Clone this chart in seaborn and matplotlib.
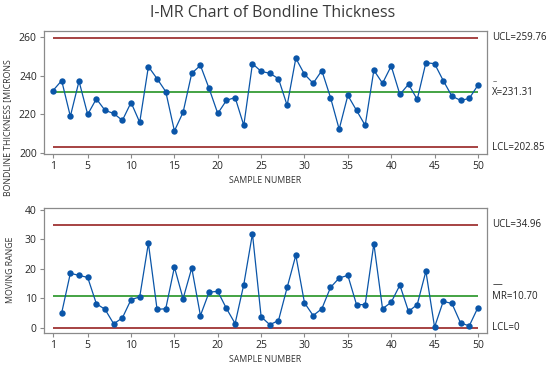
import numpy as np
import pandas as pd
import matplotlib
matplotlib.use("Agg")
import matplotlib.pyplot as plt
import seaborn as sns

# values
samples = list(range(1, 51))
thickness = [232.3, 237.5, 218.9, 237.2, 219.9, 228.0, 222.0, 220.4, 216.8, 226.1,
             215.8, 244.8, 238.5, 231.8, 211.3, 221.0, 241.3, 245.4, 233.4, 220.4,
             227.2, 228.7, 214.2, 246.3, 242.3, 241.3, 238.5, 224.6, 249.1, 240.8,
             236.1, 242.7, 228.7, 212.2, 229.8, 222.0, 214.2, 242.9, 236.1, 245.1,
             230.3, 235.6, 227.7, 246.8, 246.3, 237.5, 229.4, 227.2, 228.2, 235.1]
mr_samples = list(range(2, 51))
moving_range = [5.1, 18.5, 17.8, 17.1, 8.2, 6.3, 1.4, 3.4, 9.6, 10.5,
                28.7, 6.3, 6.5, 20.6, 9.9, 20.3, 4.2, 12.1, 12.4, 6.6,
                1.5, 14.7, 31.9, 3.8, 1.1, 2.5, 13.7, 24.6, 8.5, 4.2,
                6.5, 13.7, 16.9, 17.8, 7.9, 7.9, 28.5, 6.5, 8.7, 14.5,
                5.6, 7.9, 19.2, 0.3, 9.0, 8.3, 1.7, 0.7, 6.9]

i_limits = {"UCL": 259.76, "CL": 231.31, "LCL": 202.85}
mr_limits = {"UCL": 34.96, "CL": 10.70, "LCL": 0}
x_ticks = [1, 5, 10, 15, 20, 25, 30, 35, 40, 45, 50]

sns.set_style("white")
plt.rcParams["font.family"] = ["Open Sans", "DejaVu Sans"]

blue = "#0a55a8"
red = "#8e1010"
green = "#118a11"
frame = "#8a8a8a"

df_i = pd.DataFrame({"sample": samples, "value": thickness})
df_mr = pd.DataFrame({"sample": mr_samples, "value": moving_range})

fig = plt.figure(figsize=(5.5, 3.66), dpi=100)
ax1 = fig.add_axes([0.0795, 0.5792, 0.806, 0.3361])
ax2 = fig.add_axes([0.0795, 0.0902, 0.806, 0.3415])


def draw(ax, df, limits, ylim, yticks):
    ax.hlines([limits["UCL"], limits["LCL"]], 1, 50, color=red, lw=1.1, zorder=1)
    ax.hlines(limits["CL"], 1, 50, color=green, lw=1.1, zorder=1)
    sns.lineplot(data=df, x="sample", y="value", ax=ax, color=blue, lw=0.9,
                 marker="o", markersize=4.6, markeredgewidth=0, zorder=3)
    ax.set_xlim(-0.07, 51.05)
    ax.set_ylim(*ylim)
    ax.set_xticks(x_ticks)
    ax.set_yticks(yticks)
    ax.tick_params(axis="both", labelsize=7.5, length=3, width=0.8, color=frame,
                   pad=2, bottom=True, left=True)
    for s in ax.spines.values():
        s.set_color(frame)
        s.set_linewidth(0.9)
    ax.set_xlabel("SAMPLE NUMBER", fontsize=6.3, color="#333333", labelpad=3)
    ax.set_ylabel("")


draw(ax1, df_i, i_limits, (199.3, 263.3), [200, 220, 240, 260])
draw(ax2, df_mr, mr_limits, (-1.7, 40.6), [0, 10, 20, 30, 40])

fig.text(0.013, 1 - 196 / 366, "BONDLINE THICKNESS [MICRONS", rotation=90,
         ha="center", va="bottom", fontsize=6.3, color="#333333")
fig.text(0.019, 1 - 270 / 366, "MOVING RANGE", rotation=90,
         ha="center", va="center", fontsize=6.3, color="#333333")

fig.text(0.495, 0.965, "I-MR Chart of Bondline Thickness", ha="center", va="center",
         fontsize=11.5, color="#3a3a3a")

lab_x = 492 / 550
lab_kw = dict(fontsize=7, color="#222222", va="center", ha="left")
for ax, limits, labels in [
    (ax1, i_limits, ["UCL=259.76", "X=231.31", "LCL=202.85"]),
    (ax2, mr_limits, ["UCL=34.96", "MR=10.70", "LCL=0"]),
]:
    tr = matplotlib.transforms.blended_transform_factory(fig.transFigure, ax.transData)
    for key, lab in zip(["UCL", "CL", "LCL"], labels):
        ax.text(lab_x, limits[key], lab, transform=tr, **lab_kw)

# bars drawn above X and MR
fig.text(493 / 550, 1 - 82 / 366, "–", fontsize=6, color="#222222", ha="left", va="center")
fig.text(493 / 550, 1 - 285 / 366, "—", fontsize=7, color="#222222", ha="left", va="center")

fig.savefig("out.png", dpi=100)
